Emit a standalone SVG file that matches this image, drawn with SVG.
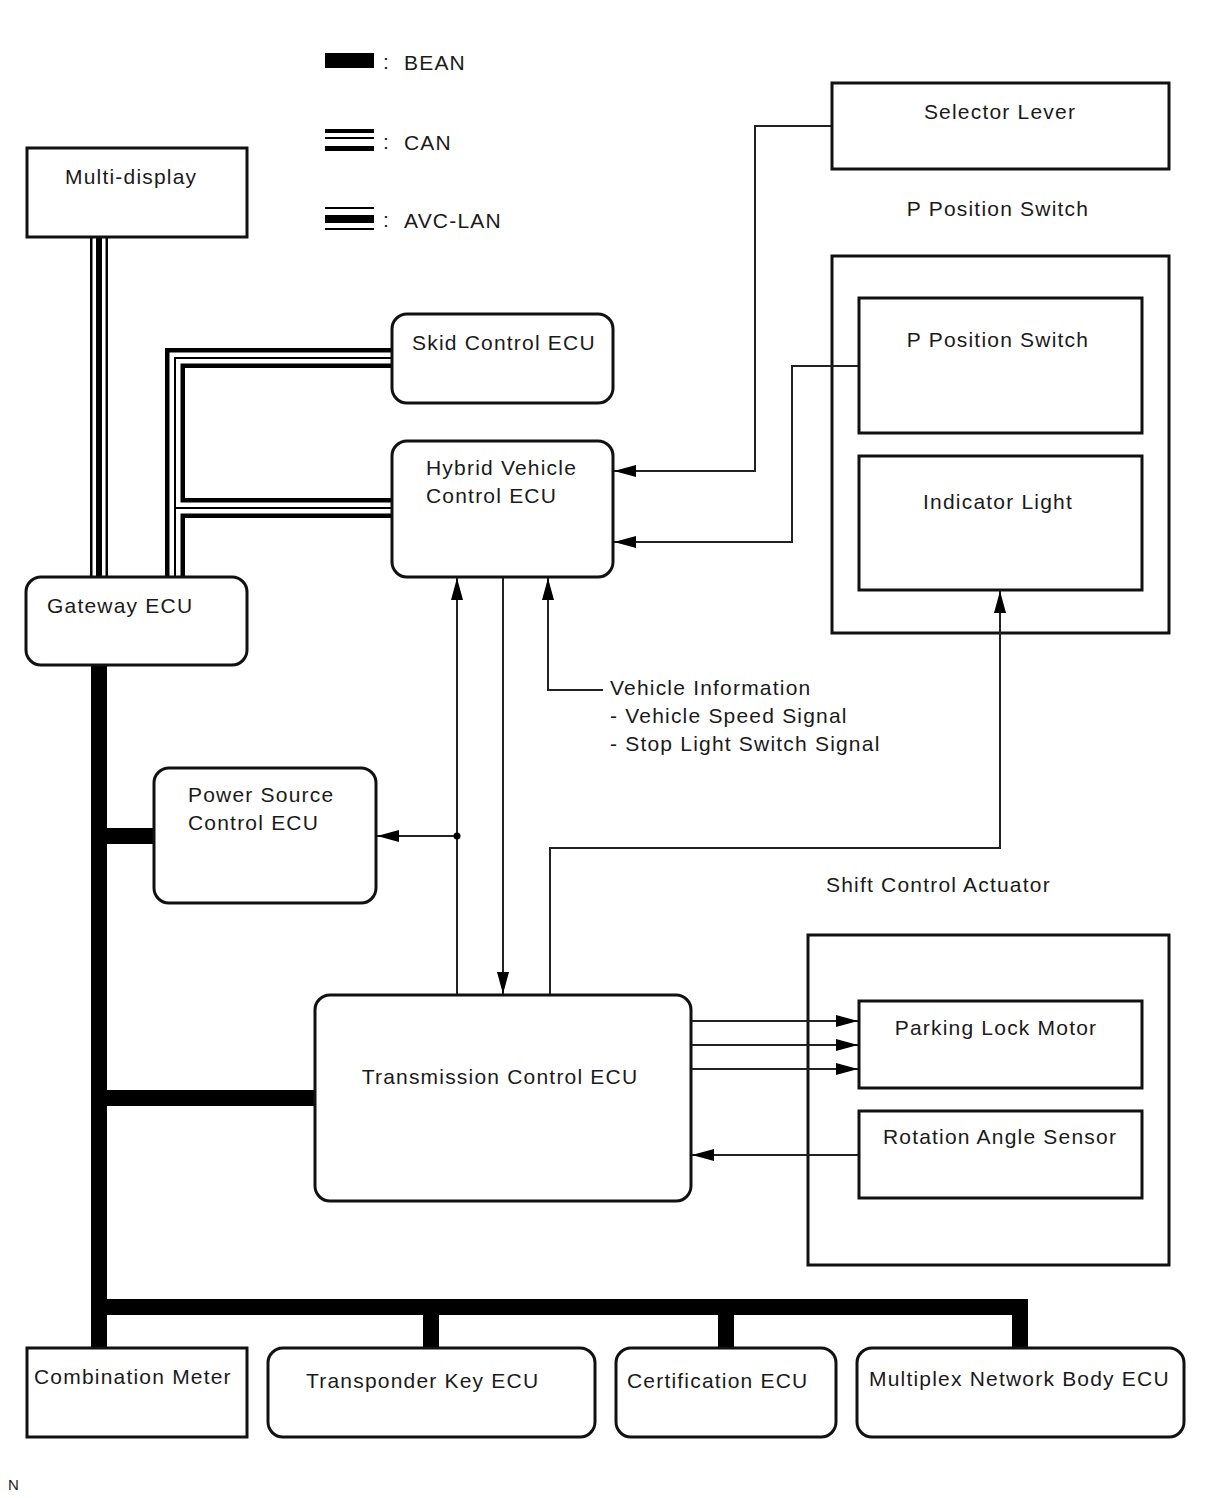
<svg xmlns="http://www.w3.org/2000/svg" width="1210" height="1498" viewBox="0 0 1210 1498">
<style>
.box{fill:#fff;stroke:#111;stroke-width:3}
.cont{fill:none;stroke:#111;stroke-width:3}
.t{font-family:"Liberation Sans",Arial,sans-serif;font-size:21px;letter-spacing:1.2px;fill:#1a1a1a}
.w{fill:none;stroke:#222;stroke-width:2}
.bean{fill:none;stroke:#000;stroke-width:16}
.canA{fill:none;stroke:#000;stroke-width:20}
.canB{fill:none;stroke:#fff;stroke-width:11}
.canC{fill:none;stroke:#000;stroke-width:2}
.avA{fill:none;stroke:#000;stroke-width:18}
.avB{fill:none;stroke:#fff;stroke-width:13}
.avC{fill:none;stroke:#000;stroke-width:6}
</style>
<defs>
<marker id="ar" markerUnits="userSpaceOnUse" markerWidth="22" markerHeight="12" refX="22" refY="6" orient="auto">
<path d="M0,0 L22,6 L0,12 Z" fill="#000"/>
</marker>
</defs>
<rect width="1210" height="1498" fill="#fff"/>

<g id="legend">
<rect x="325" y="53" width="49" height="15" fill="#000"/>
<text class="t" x="383" y="69">:</text>
<text class="t" x="404" y="70">BEAN</text>
<rect x="325" y="129" width="49" height="4" fill="#000"/>
<rect x="325" y="137" width="49" height="2" fill="#000"/>
<rect x="325" y="146" width="49" height="5" fill="#000"/>
<text class="t" x="383" y="149">:</text>
<text class="t" x="404" y="150">CAN</text>
<rect x="325" y="207" width="49" height="2" fill="#000"/>
<rect x="325" y="215" width="49" height="8" fill="#000"/>
<rect x="325" y="228" width="49" height="2" fill="#000"/>
<text class="t" x="383" y="227">:</text>
<text class="t" x="404" y="228">AVC-LAN</text>
</g>

<g id="p-position-switch-assy">
<text class="t" x="998" y="216" text-anchor="middle">P Position Switch</text>
<rect class="cont" x="832" y="256" width="337" height="377"/>
</g>
<g id="shift-control-actuator">
<text class="t" x="826" y="892">Shift Control Actuator</text>
<rect class="cont" x="808" y="935" width="361" height="330"/>
</g>

<g id="connectors">
<!-- BEAN -->
<path class="bean" d="M99,665 V1348 M99,836 H155 M99,1098 H316 M99,1307 H1028 M431,1307 V1348 M726,1307 V1348 M1020,1307 V1348"/>
<!-- AVC-LAN -->
<path class="avA" d="M99,237 V577"/>
<path class="avB" d="M99,237 V577"/>
<path class="avC" d="M99,237 V577"/>
<!-- CAN -->
<path class="canA" d="M175,577 V358 H392"/>
<path class="canA" d="M175,508 H392"/>
<path class="canB" d="M175,577 V358 H392"/>
<path class="canB" d="M175,508 H392"/>
<path class="canC" d="M175,577 V358 H392"/>
<path class="canC" d="M175,508 H392"/>
<!-- signal wires -->
<path class="w" d="M832,126 H755 V471 H614" marker-end="url(#ar)"/>
<path class="w" d="M859,366 H792 V542 H614" marker-end="url(#ar)"/>
<path class="w" d="M457,995 V578" marker-end="url(#ar)"/>
<path class="w" d="M503,578 V994" marker-end="url(#ar)"/>
<path class="w" d="M603,690 H548 V578" marker-end="url(#ar)"/>
<path class="w" d="M457,836 H377" marker-end="url(#ar)"/>
<circle cx="457" cy="836" r="3.5" fill="#000"/>
<path class="w" d="M550,995 V848 H1000 V591" marker-end="url(#ar)"/>
<path class="w" d="M691,1021 H858" marker-end="url(#ar)"/>
<path class="w" d="M691,1045 H858" marker-end="url(#ar)"/>
<path class="w" d="M691,1069 H858" marker-end="url(#ar)"/>
<path class="w" d="M859,1155 H692" marker-end="url(#ar)"/>
</g>

<g id="multi-display">
<rect class="box" x="27" y="148" width="220" height="89"/>
<text class="t" x="65" y="184">Multi-display</text>
</g>
<g id="gateway-ecu">
<rect class="box" x="26" y="577" width="221" height="88" rx="15"/>
<text class="t" x="47" y="613">Gateway ECU</text>
</g>
<g id="skid-control-ecu">
<rect class="box" x="392" y="314" width="221" height="89" rx="15"/>
<text class="t" x="412" y="350">Skid Control ECU</text>
</g>
<g id="hybrid-vehicle-control-ecu">
<rect class="box" x="392" y="441" width="221" height="136" rx="15"/>
<text class="t" x="426" y="475">Hybrid Vehicle</text>
<text class="t" x="426" y="503">Control ECU</text>
</g>
<g id="power-source-control-ecu">
<rect class="box" x="154" y="768" width="222" height="135" rx="15"/>
<text class="t" x="188" y="802">Power Source</text>
<text class="t" x="188" y="830">Control ECU</text>
</g>
<g id="transmission-control-ecu">
<rect class="box" x="315" y="995" width="376" height="206" rx="15"/>
<text class="t" x="500" y="1084" text-anchor="middle">Transmission Control ECU</text>
</g>
<g id="vehicle-information">
<text class="t" x="610" y="695">Vehicle Information</text>
<text class="t" x="610" y="723">- Vehicle Speed Signal</text>
<text class="t" x="610" y="751">- Stop Light Switch Signal</text>
</g>
<g id="selector-lever">
<rect class="box" x="832" y="83" width="337" height="86"/>
<text class="t" x="1000" y="119" text-anchor="middle">Selector Lever</text>
</g>
<g id="p-position-switch">
<rect class="box" x="859" y="298" width="283" height="135"/>
<text class="t" x="998" y="347" text-anchor="middle">P Position Switch</text>
</g>
<g id="indicator-light">
<rect class="box" x="859" y="456" width="283" height="134"/>
<text class="t" x="998" y="509" text-anchor="middle">Indicator Light</text>
</g>
<g id="parking-lock-motor">
<rect class="box" x="859" y="1001" width="283" height="87"/>
<text class="t" x="996" y="1035" text-anchor="middle">Parking Lock Motor</text>
</g>
<g id="rotation-angle-sensor">
<rect class="box" x="859" y="1111" width="283" height="87"/>
<text class="t" x="1000" y="1144" text-anchor="middle">Rotation Angle Sensor</text>
</g>
<g id="combination-meter">
<rect class="box" x="27" y="1348" width="220" height="89"/>
<text class="t" x="34" y="1384">Combination Meter</text>
</g>
<g id="transponder-key-ecu">
<rect class="box" x="268" y="1348" width="327" height="89" rx="15"/>
<text class="t" x="306" y="1388">Transponder Key ECU</text>
</g>
<g id="certification-ecu">
<rect class="box" x="616" y="1348" width="220" height="89" rx="15"/>
<text class="t" x="627" y="1388">Certification ECU</text>
</g>
<g id="multiplex-network-body-ecu">
<rect class="box" x="857" y="1348" width="327" height="89" rx="15"/>
<text class="t" x="869" y="1386">Multiplex Network Body ECU</text>
</g>
<text x="8" y="1490" font-family="Liberation Sans, Arial, sans-serif" font-size="15" fill="#222">N</text>
</svg>
